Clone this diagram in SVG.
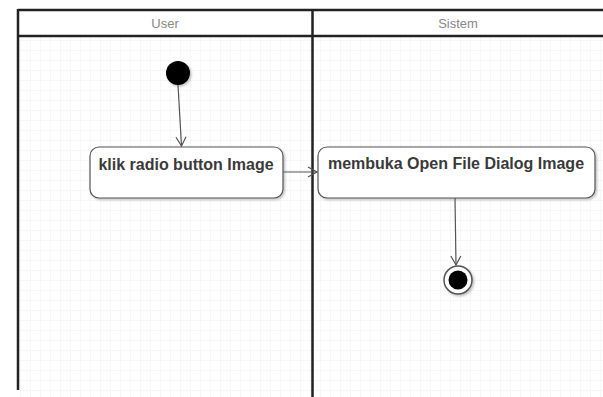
<svg xmlns="http://www.w3.org/2000/svg" width="603" height="397" viewBox="0 0 603 397">
<defs>
<pattern id="grid" width="10" height="10" patternUnits="userSpaceOnUse" x="0" y="0">
<path d="M10 0 L0 0 0 10" fill="none" stroke="#efefef" stroke-width="1"/>
</pattern>
<marker id="open" markerWidth="12" markerHeight="12" refX="10" refY="6" orient="auto" markerUnits="userSpaceOnUse">
<path d="M1 1 L10 6 L1 11" fill="none" stroke="#555" stroke-width="1.2"/>
</marker>
<filter id="sh" x="-10%" y="-10%" width="130%" height="140%">
<feDropShadow dx="1.5" dy="1.5" stdDeviation="1.2" flood-color="#000" flood-opacity="0.25"/>
</filter>
</defs>
<style>
.lane{stroke:#222;stroke-width:2.5;fill:none}
.hdr{font-family:"Liberation Sans",Arial,sans-serif;font-size:13px;fill:#888;text-anchor:middle}
.act{fill:#fff;stroke:#555;stroke-width:1.2}
.lbl{font-family:"Liberation Sans",Arial,sans-serif;font-size:16px;font-weight:bold;fill:#3a3a3a;text-anchor:middle}
.edge{stroke:#555;stroke-width:1.2;fill:none;marker-end:url(#open)}
</style>
<rect x="0" y="0" width="603" height="397" fill="#fff"/>
<rect x="19" y="37" width="584" height="360" fill="url(#grid)"/>
<g id="swimlanes">
<line class="lane" x1="18" y1="10" x2="603" y2="10"/>
<line class="lane" x1="18" y1="36" x2="603" y2="36"/>
<line class="lane" x1="18" y1="9" x2="18" y2="390"/>
<line class="lane" x1="312.5" y1="9" x2="312.5" y2="397"/>
<text class="hdr" x="165" y="28">User</text>
<text class="hdr" x="458" y="28">Sistem</text>
</g>
<g id="start">
<circle cx="178" cy="73" r="12" fill="#000" filter="url(#sh)"/>
</g>
<g id="act1">
<rect class="act" x="90" y="147" width="193" height="51" rx="9" filter="url(#sh)"/>
<text class="lbl" x="186" y="170">klik radio button Image</text>
</g>
<g id="act2">
<rect class="act" x="318" y="147" width="277" height="51" rx="9" filter="url(#sh)"/>
<text class="lbl" x="456" y="169">membuka Open File Dialog Image</text>
</g>
<g id="end">
<circle cx="458" cy="280" r="14" fill="#fff" stroke="#555" stroke-width="1.5" filter="url(#sh)"/>
<circle cx="458" cy="280" r="9.5" fill="#000"/>
</g>
<g id="connectors">
<path class="edge" d="M178 85 L181.5 146"/>
<path class="edge" d="M283 172 L317 172"/>
<path class="edge" d="M455 198 L456 265"/>
</g>
</svg>
